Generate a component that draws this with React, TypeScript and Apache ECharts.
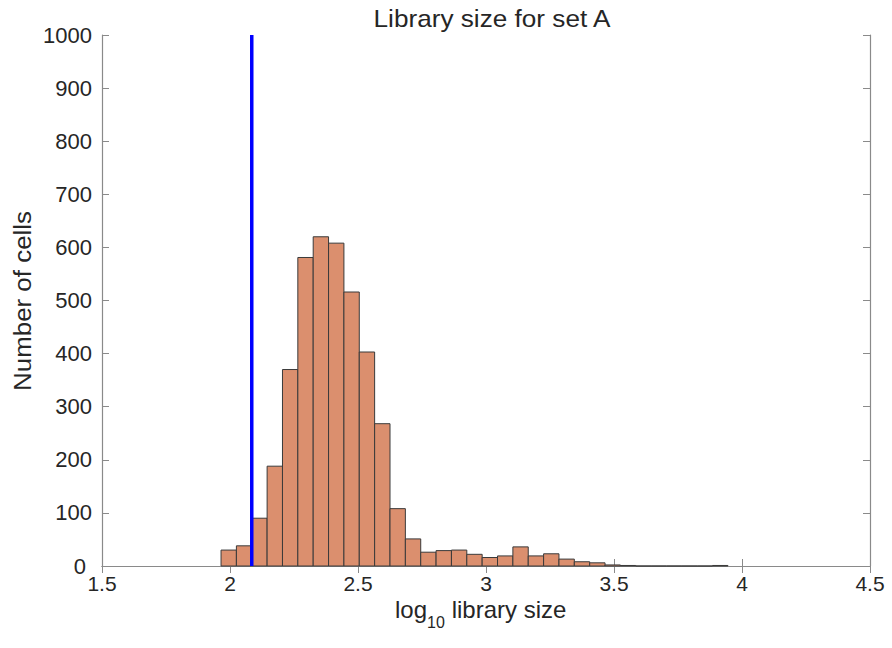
import React, { useEffect, useRef } from "react";
import * as echarts from "echarts";

// Histogram definition (log10 library size)
const binStart = 1.965;
const binWidth = 0.06;
const counts = [
  30, 38, 90, 188, 370, 581, 620, 608, 516, 403, 268, 108, 51, 26, 29, 30,
  22, 16, 19, 36, 19, 23, 13, 8, 6, 2, 1, 0, 0, 0, 0, 0, 1,
];
const threshold = 2.085;
const xTicks = [1.5, 2, 2.5, 3, 3.5, 4, 4.5];
const yMax = 1000;
const titleText = "Library size for set A";
const yLabel = "Number of cells";

const FONT = "'Liberation Sans', Arial, Helvetica, sans-serif";

export default function App() {
  const ref = useRef<HTMLDivElement>(null);
  useEffect(() => {
    if (!ref.current) return;
    const chart = echarts.init(ref.current, undefined, { renderer: "svg" });
    const bins = counts.map((c, i) => [
      binStart + i * binWidth,
      binStart + (i + 1) * binWidth,
      c,
    ]);
    const axisColor = "#8a8a8a";
    const textColor = "#262626";
    const common = {
      axisLine: { show: true, lineStyle: { color: axisColor, width: 1.2 } },
      axisTick: { show: true, inside: true, length: 7, lineStyle: { color: axisColor } },
      splitLine: { show: false },
    };
    const labelText = (x: number, y: number, text: string, size: number, extra: any = {}) => ({
      type: "text",
      x,
      y,
      ...extra,
      style: {
        text,
        fill: textColor,
        fontSize: size,
        fontFamily: FONT,
        textAlign: extra.align || "left",
        textVerticalAlign: "middle",
      },
    });
    chart.setOption({
      animation: false,
      backgroundColor: "#ffffff",
      grid: { left: 102, right: 22, top: 35, bottom: 82 },
      xAxis: [
        {
          type: "value",
          min: xTicks[0],
          max: xTicks[xTicks.length - 1],
          interval: 0.5,
          ...common,
          axisLabel: {
            color: textColor,
            fontSize: 21,
            lineHeight: 16,
            fontFamily: FONT,
            margin: 9,
            formatter: (v: number) => String(v),
          },
        },
        {
          type: "value",
          position: "top",
          min: xTicks[0],
          max: xTicks[xTicks.length - 1],
          interval: 0.5,
          ...common,
          axisLabel: { show: false },
        },
      ],
      yAxis: [
        {
          type: "value",
          min: 0,
          max: yMax,
          interval: 100,
          ...common,
          axisLabel: {
            color: textColor,
            fontSize: 22,
            lineHeight: 16,
            fontFamily: FONT,
            margin: 10,
            formatter: (v: number) => (v === 0 ? "{z|0}" : String(v)),
            rich: {
              z: {
                color: textColor,
                fontSize: 22,
                lineHeight: 16,
                fontFamily: FONT,
                padding: [0, 6, 0, 0],
              },
            },
          },
        },
        {
          type: "value",
          position: "right",
          min: 0,
          max: yMax,
          interval: 100,
          ...common,
          axisLabel: { show: false },
        },
      ],
      graphic: [
        labelText(492, 18, titleText, 24, { align: "center", scaleX: 1.09 }),
        labelText(22, 301, yLabel, 24, { align: "center", rotation: Math.PI / 2, scaleX: 1.08 }),
        labelText(395, 609, "log", 24),
        labelText(427, 622, "10", 16),
        labelText(445, 609, " library size", 24),
      ],
      series: [
        {
          type: "custom",
          xAxisIndex: 0,
          yAxisIndex: 0,
          data: bins,
          encode: { x: [0, 1], y: 2 },
          renderItem: (params: any, api: any) => {
            const x0 = api.value(0);
            const x1 = api.value(1);
            const c = api.value(2);
            const p0 = api.coord([x0, c]);
            const p1 = api.coord([x1, 0]);
            return {
              type: "rect",
              shape: { x: p0[0], y: p0[1], width: p1[0] - p0[0], height: p1[1] - p0[1] },
              style: { fill: "#db8f6e", stroke: "#3a3a3a", lineWidth: 1 },
            };
          },
          z: 2,
        },
        {
          type: "line",
          xAxisIndex: 0,
          yAxisIndex: 0,
          data: [
            [threshold, 0],
            [threshold, yMax],
          ],
          symbol: "none",
          lineStyle: { color: "#0000ff", width: 3.5 },
          z: 5,
        },
      ],
    });
    return () => chart.dispose();
  }, []);
  return (
    <div
      ref={ref}
      style={{ position: "fixed", left: 0, top: 0, width: 892, height: 648 }}
    />
  );
}
